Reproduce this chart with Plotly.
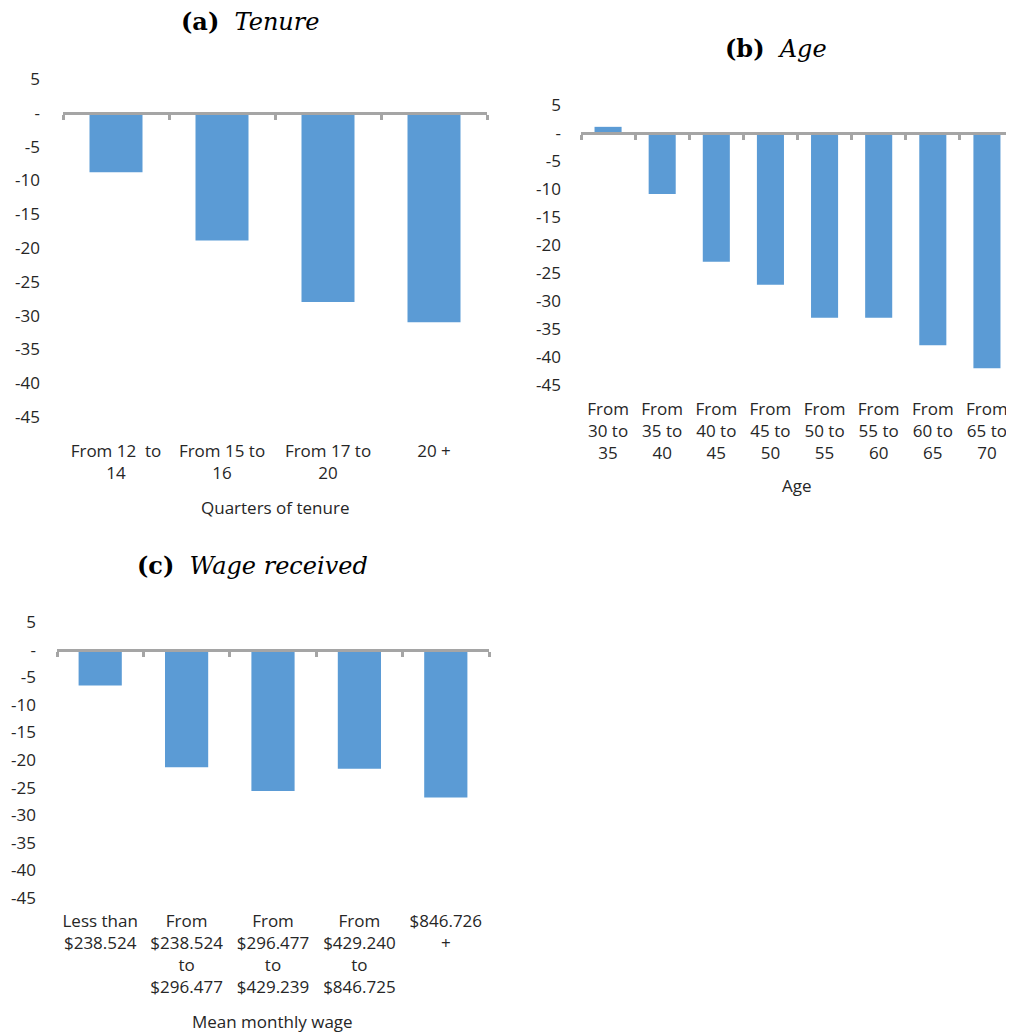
import plotly.graph_objects as go

# ---------------- data ----------------
tenure_cats = ["From 12 \u00a0to<br>14", "From 15 to<br>16", "From 17 to<br>20", "20 +"]
tenure_vals = [-8.8, -18.9, -28.0, -31.0]

age_cats = ["From<br>30 to<br>35", "From<br>35 to<br>40", "From<br>40 to<br>45", "From<br>45 to<br>50",
            "From<br>50 to<br>55", "From<br>55 to<br>60", "From<br>60 to<br>65", "From<br>65 to<br>70"]
age_vals = [1.1, -10.9, -23.0, -27.1, -33.0, -33.0, -37.9, -42.0]

wage_cats = ["Less than<br>$238.524", "From<br>$238.524<br>to<br>$296.477",
             "From<br>$296.477<br>to<br>$429.239", "From<br>$429.240<br>to<br>$846.725",
             "$846.726<br>+"]
wage_vals = [-6.5, -21.3, -25.6, -21.6, -26.8]

y_tickvals = [5, 0, -5, -10, -15, -20, -25, -30, -35, -40, -45]
y_ticktext = ["5", "-", "-5", "-10", "-15", "-20", "-25", "-30", "-35", "-40", "-45"]
y_range = [-45, 5]

titles = ["<b>(a)</b>  <i>Tenure</i>", "<b>(b)</b>  <i>Age</i>", "<b>(c)</b>  <i>Wage received</i>"]
axis_titles = ["Quarters of tenure", "Age", "Mean monthly wage"]

# ---------------- styling ----------------
OX, OY = 8, 8          # page body margin
W, H = 1006, 1026
BAR = "#5B9BD5"
AXC = "#A5A5A5"
TXT = "#262626"
FONT = "Open Sans"

panels = [
    dict(cats=tenure_cats, vals=tenure_vals, xd=(63, 487), yd=(79, 417), so=22, ys=22),
    dict(cats=age_cats, vals=age_vals, xd=(581, 1014), yd=(105, 385), so=12, ys=19),
    dict(cats=wage_cats, vals=wage_vals, xd=(57, 489), yd=(622, 898), so=11, ys=20),
]
title_pos = [(250, 22), (776, 48), (252, 565)]
axtitle_pos = [(275, 507), (797, 486), (272, 1021)]

fig = go.Figure()
layout = dict(width=W, height=H, margin=dict(l=0, r=0, t=0, b=0, autoexpand=False), autosize=False,
              paper_bgcolor="white", plot_bgcolor="white", showlegend=False,
              font=dict(family=FONT, size=17, color=TXT))

def fx(px):
    return (px - OX) / W

def fy(py):
    return 1 - (py - OY) / H

annotations = []
for i, p in enumerate(panels):
    n = i + 1
    xs = "" if n == 1 else str(n)
    ov = str(n + 3)
    x0, x1 = p["xd"]
    yt, yb = p["yd"]
    nc = len(p["cats"])
    xr = [-0.5, nc - 0.5]
    dom_x = [fx(x0), min(1.0, fx(x1))]
    dom_y = [fy(yb), fy(yt)]
    fig.add_trace(go.Bar(x=p["cats"], y=p["vals"], marker=dict(color=BAR, line=dict(width=0)),
                         width=0.5, xaxis="x" + xs, yaxis="y" + xs, hoverinfo="skip"))
    fig.add_trace(go.Scatter(x=p["cats"], y=[0] * nc, mode="markers",
                             marker=dict(opacity=0), xaxis="x" + ov, yaxis="y" + xs,
                             hoverinfo="skip"))
    zero_frac = (0 - y_range[0]) / (y_range[1] - y_range[0])
    zero_pos = dom_y[0] + zero_frac * (dom_y[1] - dom_y[0])
    layout["xaxis" + xs] = dict(domain=dom_x, anchor="y" + xs, type="category",
                                categoryarray=p["cats"], range=xr, automargin=False,
                                showline=False, ticks="", showgrid=False, zeroline=False,
                                tickangle=0, ticklabelstandoff=p["so"],
                                tickfont=dict(family=FONT, size=17, color=TXT))
    layout["xaxis" + ov] = dict(domain=dom_x, anchor="free", position=zero_pos,
                                overlaying="x" + xs, type="category", automargin=False,
                                categoryarray=p["cats"], range=xr,
                                showline=True, linecolor=AXC, linewidth=3,
                                ticks="outside", tickson="boundaries", ticklen=5,
                                tickwidth=2.5, tickcolor=AXC, showticklabels=False,
                                showgrid=False, zeroline=False)
    layout["yaxis" + xs] = dict(domain=dom_y, anchor="x" + xs, range=y_range, automargin=False,
                                tickvals=y_tickvals, ticktext=y_ticktext,
                                showline=False, showgrid=False, zeroline=False, ticks="",
                                ticklabelstandoff=p["ys"],
                                tickfont=dict(family=FONT, size=17, color=TXT))
    tx, ty = title_pos[i]
    annotations.append(dict(text=titles[i], x=fx(tx), y=fy(ty), xref="paper", yref="paper",
                            xanchor="center", yanchor="middle", showarrow=False,
                            font=dict(family="DejaVu Serif", size=24, color="black")))
    ax, ay = axtitle_pos[i]
    annotations.append(dict(text=axis_titles[i], x=fx(ax), y=fy(ay), xref="paper", yref="paper",
                            xanchor="center", yanchor="middle", showarrow=False,
                            font=dict(family=FONT, size=17, color=TXT)))

layout["annotations"] = annotations
fig.update_layout(**layout)
fig.write_html("out.html")
